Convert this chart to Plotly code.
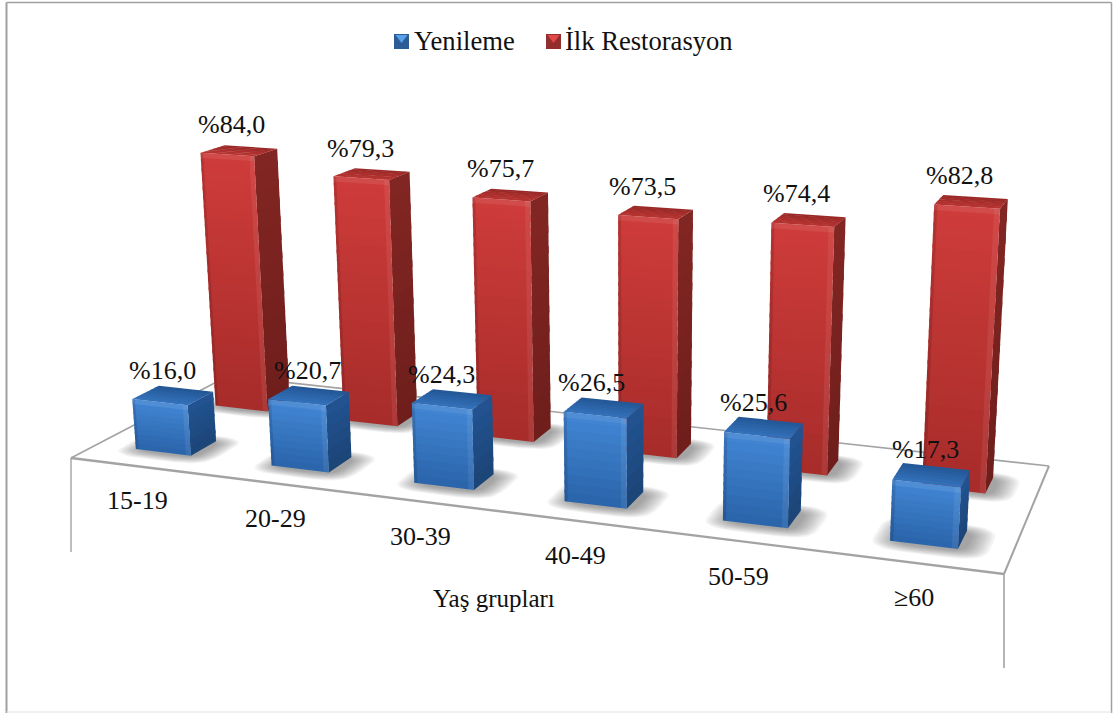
import numpy as np
import plotly.graph_objects as go

CATEGORIES = ["15-19", "20-29", "30-39", "40-49", "50-59", "\u226560"]
YENILEME = [16.0, 20.7, 24.3, 26.5, 25.6, 17.3]
ILK_RESTORASYON = [84.0, 79.3, 75.7, 73.5, 74.4, 82.8]
SERIES_NAMES = ["Yenileme", "\u0130lk Restorasyon"]
AXIS_TITLE = "Ya\u015f gruplar\u0131"

# small label nudges, in pixels
BLUE_LABEL_DX = [-11, -1, -11, -12, -10, -6]
RED_LABEL_DX = [-8, -11, -10, -13, -12, -12]
TICK_LABEL_DX = [-3, -7, -10, -10, -9, -2.5]

FONT = "Liberation Serif"
TEXT = "#111111"
BLUE = dict(front_top=(66, 134, 212), front_bot=(42, 100, 170), side_top=(34, 84, 146),
            side_bot=(28, 68, 118), top_front=(52, 114, 188), top_back=(34, 86, 148),
            sw_dark=(44, 92, 150), sw_light=(88, 160, 232))
RED = dict(front_top=(206, 60, 58), front_bot=(166, 44, 42), side_top=(130, 38, 34),
           side_bot=(110, 30, 28), top_front=(186, 52, 50), top_back=(150, 40, 38),
           sw_dark=(146, 46, 46), sw_light=(226, 74, 74))

# Perspective view of the 3-D chart box: floor corners and the vertical vanishing point
FL, FR, BR, BL = (71, 458), (1004, 574), (1049, 466), (228, 376)
VX, VY = 630.0, 7340.0
HEIGHT_K = 0.000455
HEIGHT_GROW = 0.04
SLOT_WARP = 0.03


def view_matrix():
    dx1, dx2, sx = FR[0] - BR[0], BL[0] - BR[0], FL[0] - FR[0] + BR[0] - BL[0]
    dy1, dy2, sy = FR[1] - BR[1], BL[1] - BR[1], FL[1] - FR[1] + BR[1] - BL[1]
    det = dx1 * dy2 - dx2 * dy1
    g = (sx * dy2 - dx2 * sy) / det
    h = (dx1 * sy - sx * dy1) / det
    return (FR[0] - FL[0] + g * FR[0], BL[0] - FL[0] + h * BL[0], FL[0],
            FR[1] - FL[1] + g * FR[1], BL[1] - FL[1] + h * BL[1], FL[1], g, h)


A, B, C, D, E, F, G, H = view_matrix()


def project(u, v, z):
    k = HEIGHT_K * (1 + HEIGHT_GROW * u) * z
    w = G * u + H * v + 1 - k
    return ((A * u + B * v + C - k * VX) / w, (D * u + E * v + F - k * VY) / w)


def mix(c1, c2, t):
    return tuple(c1[i] + (c2[i] - c1[i]) * t for i in range(3))


def css(c):
    return "rgb(%d,%d,%d)" % tuple(max(0, min(255, round(x))) for x in c)


fig = go.Figure()


def poly(points, color):
    xs = [p[0] for p in points] + [points[0][0]]
    ys = [p[1] for p in points] + [points[0][1]]
    fig.add_trace(go.Scatter(x=xs, y=ys, mode="lines", fill="toself", fillcolor=color,
                             line=dict(width=0), hoverinfo="skip", showlegend=False))


def line(p1, p2, width=2.0, color="#a3a3a3"):
    fig.add_trace(go.Scatter(x=[p1[0], p2[0]], y=[p1[1], p2[1]], mode="lines",
                             line=dict(color=color, width=width), hoverinfo="skip", showlegend=False))


def shadow(u0, u1, v0, v1):
    uc, vc = (u0 + u1) / 2 + 0.006, (v0 + v1) / 2 - 0.012
    for k in range(10, 0, -1):
        ru = (u1 - u0) / 2 + 0.0024 * k
        rv = (v1 - v0) / 2 + 0.0065 * k
        pts = []
        for t in np.linspace(0, 2 * np.pi, 40, endpoint=False):
            cu, su = np.cos(t), np.sin(t)
            pts.append(project(uc + ru * np.sign(cu) * abs(cu) ** 0.5,
                               vc + rv * np.sign(su) * abs(su) ** 0.5, 0))
        poly(pts, "rgba(50,50,50,0.055)")


def bar(u0, u1, v0, v1, z, pal):
    rows = max(6, int(z / 6))
    eps = z / rows * 0.35
    # right side face
    for r in range(rows):
        z0, z1 = z * r / rows, min(z, z * (r + 1) / rows + eps)
        col = mix(pal["side_bot"], pal["side_top"], (r + 0.5) / rows)
        poly([project(u1, v0, z0), project(u1, v1, z0), project(u1, v1, z1), project(u1, v0, z1)], css(col))
    # front face, lit from above
    rows = max(10, int(z / 3))
    eps = z / rows * 0.35
    for r in range(rows):
        z0, z1 = z * r / rows, min(z, z * (r + 1) / rows + eps)
        col = mix(pal["front_bot"], pal["front_top"], (r + 0.5) / rows)
        poly([project(u0, v0, z0), project(u1, v0, z0), project(u1, v0, z1), project(u0, v0, z1)], css(col))
    # soft bevels on the vertical front edges and along the top of the front
    du = u1 - u0
    poly([project(u0, v0, 0), project(u0 + du * 0.05, v0, 0),
          project(u0 + du * 0.05, v0, z), project(u0, v0, z)], "rgba(0,0,0,0.12)")
    poly([project(u1 - du * 0.09, v0, 0), project(u1, v0, 0),
          project(u1, v0, z), project(u1 - du * 0.09, v0, z)], "rgba(255,255,255,0.07)")
    poly([project(u0, v0, z - 1.6), project(u1, v0, z - 1.6),
          project(u1, v0, z), project(u0, v0, z)], "rgba(255,255,255,0.08)")
    # top face
    rows = 6
    for r in range(rows):
        a, b = v0 + (v1 - v0) * r / rows, v0 + (v1 - v0) * min(1, (r + 1.3) / rows)
        col = mix(pal["top_front"], pal["top_back"], (r + 0.5) / rows)
        poly([project(u0, a, z), project(u1, a, z), project(u1, b, z), project(u0, b, z)], css(col))


# floor outline and the two box edges under it
line(BL, BR, 1.6)
line(FL, BL, 1.6)
line(BR, FR, 2.0)
line(FL, FR, 2.4)
line(FL, (FL[0], 552), 1.4)
line(FR, (FR[0], 668), 1.6)

n = len(CATEGORIES)
BAR_U = 0.067
DEPTHS = [(0.15, 0.31), (0.66, 0.82)]


def slot(i):
    u = (i + 0.5) / n
    return u - SLOT_WARP * u * (1 - u)


for series, pal, (v0, v1) in ((ILK_RESTORASYON, RED, DEPTHS[1]), (YENILEME, BLUE, DEPTHS[0])):
    for i, val in enumerate(series):
        uc = slot(i)
        shadow(uc - BAR_U / 2, uc + BAR_U / 2, v0, v1)
        bar(uc - BAR_U / 2, uc + BAR_U / 2, v0, v1, val, pal)

annotations = []


def text(x, y, s, size=26, anchor="center"):
    annotations.append(dict(x=x, y=y, text=s, showarrow=False, xref="x", yref="y",
                            xanchor=anchor, yanchor="middle",
                            font=dict(family=FONT, size=size, color=TEXT)))


for series, (v0, v1), nudges, dy in ((YENILEME, DEPTHS[0], BLUE_LABEL_DX, -25),
                                     (ILK_RESTORASYON, DEPTHS[1], RED_LABEL_DX, -26)):
    for i, val in enumerate(series):
        px, py = project(slot(i), (v0 + v1) / 2, val)
        text(px + nudges[i], py + dy, "%" + ("%.1f" % val).replace(".", ","))

for i, cat in enumerate(CATEGORIES):
    px, py = project((i + 0.5) / n, 0, 0)
    text(px + TICK_LABEL_DX[i], py + 34, cat)

text(494, 598, AXIS_TITLE, size=25)

# legend
for name, pal, sx, tx in zip(SERIES_NAMES, (BLUE, RED), (401.5, 553.5), (412, 563)):
    fig.add_trace(go.Scatter(x=[sx], y=[41.5], mode="markers", name=name, showlegend=False,
                             hoverinfo="skip",
                             marker=dict(symbol="square", size=15, color=css(pal["sw_dark"]), line=dict(width=0))))
    poly([(sx - 6, 35), (sx + 6, 35), (sx, 43)], css(pal["sw_light"]))
    text(tx, 41, name, size=26.6, anchor="left")

fig.update_layout(
    width=1115, height=713, margin=dict(l=0, r=0, t=0, b=0),
    paper_bgcolor="white", plot_bgcolor="white", showlegend=False,
    xaxis=dict(range=[0, 1115], visible=False, fixedrange=True),
    yaxis=dict(range=[713, 0], visible=False, fixedrange=True),
    annotations=annotations,
    shapes=[
        dict(type="line", xref="x", yref="y", x0=6.5, x1=6.5, y0=2.5, y1=713, line=dict(color="#a0a0a0", width=2)),
        dict(type="line", xref="x", yref="y", x0=6.5, x1=1111.5, y0=2.5, y1=2.5, line=dict(color="#a0a0a0", width=1.5)),
        dict(type="line", xref="x", yref="y", x0=1111.5, x1=1111.5, y0=2.5, y1=713, line=dict(color="#a0a0a0", width=1.5)),
        dict(type="line", xref="x", yref="y", x0=6.5, x1=1111.5, y0=712, y1=712, line=dict(color="#e4e4e4", width=1)),
    ],
)

fig.write_html("out.html", config={"displayModeBar": False},
               post_script="document.body.style.margin='0';document.body.style.overflow='hidden';")
